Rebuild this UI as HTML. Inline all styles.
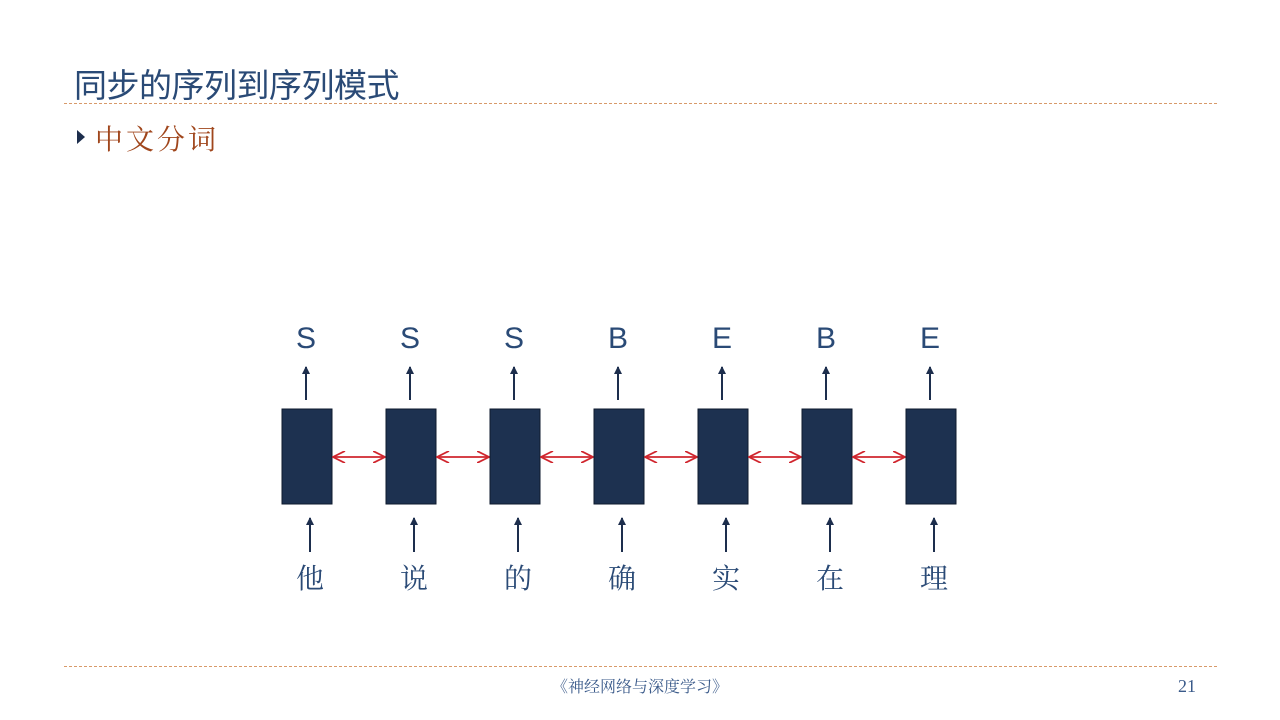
<!DOCTYPE html>
<html><head><meta charset="utf-8"><style>
body{margin:0;width:1280px;height:720px;background:#fff;overflow:hidden;position:relative;font-family:"Liberation Sans","Noto Sans CJK SC",sans-serif}
.t{position:absolute;left:74px;top:59px;font-size:33px;color:#2a4a76;letter-spacing:-0.5px}
.b{position:absolute;left:95px;top:118px;font-size:28px;color:#a0461c;font-family:"Liberation Serif","Noto Serif CJK SC",serif;letter-spacing:3px}
.tri{position:absolute;left:77px;top:130px;width:0;height:0;border-left:8px solid #1d2e4d;border-top:7px solid transparent;border-bottom:7px solid transparent}
.hl{position:absolute;left:64px;width:1153px;border-top:1px dashed #d89a6a}
.f{position:absolute;top:674px;left:0;width:1280px;text-align:center;font-size:16px;color:#3a5a8a;font-family:"Liberation Serif","Noto Serif CJK SC",serif}
.pg{position:absolute;left:1178px;top:676px;font-size:18px;color:#3a5a8a;font-family:"Liberation Serif",serif}
</style></head><body>
<div class="t">同步的序列到序列模式</div>
<div class="hl" style="top:103px"></div>
<div class="tri"></div>
<div class="b">中文分词</div>
<svg id="d" width="1280" height="720" style="position:absolute;left:0;top:0">
<defs>
<marker id="ah" markerWidth="8" markerHeight="8" refX="7" refY="4" orient="auto" markerUnits="userSpaceOnUse"><path d="M0,0 L8,4 L0,8 z" fill="#1d2e4d"/></marker>
<marker id="rh" markerWidth="14" markerHeight="12" refX="12" refY="6" orient="auto" markerUnits="userSpaceOnUse"><path d="M0,0 L12,6 L0,12" fill="none" stroke="#d0262e" stroke-width="1.8"/></marker>
<marker id="rt" markerWidth="14" markerHeight="12" refX="1" refY="6" orient="auto" markerUnits="userSpaceOnUse"><path d="M13,0 L1,6 L13,12" fill="none" stroke="#d0262e" stroke-width="1.8"/></marker>
</defs>
</svg>
<div class="hl" style="top:666px"></div>
<div class="f">《神经网络与深度学习》</div>
<div class="pg">21</div>
<script>
const inputs=["他","说","的","确","实","在","理"];
const tags=["S","S","S","B","E","B","E"];
const svg=document.getElementById('d');
const NS="http://www.w3.org/2000/svg";
const x0=282,step=104,bw=50,by=409,bh=95;
function mk(t,a){const e=document.createElementNS(NS,t);for(const k in a)e.setAttribute(k,a[k]);svg.appendChild(e);return e;}
inputs.forEach((ch,i)=>{
  const x=x0+i*step;
  const r=mk('rect',{x:x,y:by,width:bw,height:bh,fill:'#1d3150',stroke:'#0e1a2e','stroke-width':1});
  
  
  const ua=mk('line',{x1:x+24,y1:400,x2:x+24,y2:367,stroke:'#1d2e4d','stroke-width':2,'marker-end':'url(#ah)'});
  
  
  const da=mk('line',{x1:x+28,y1:552,x2:x+28,y2:518,stroke:'#1d2e4d','stroke-width':2,'marker-end':'url(#ah)'});
  
  
  const tg=mk('text',{x:x+24,y:348,'text-anchor':'middle','font-size':30,fill:'#2a4a76','font-family':'Liberation Sans,sans-serif'});
  tg.textContent=tags[i];
  
  
  const c=mk('text',{x:x+28,y:588,'text-anchor':'middle','font-size':28,fill:'#2a4a76','font-family':'Liberation Serif,Noto Serif CJK SC,serif'});
  c.textContent=ch;
  
  
  if(i<inputs.length-1){
    const l=mk('line',{x1:x+bw+1,y1:457,x2:x+step-1,y2:457,stroke:'#d0262e','stroke-width':1.8,'marker-end':'url(#rh)','marker-start':'url(#rt)'});
    
    
  }
});
</script>
</body></html>
